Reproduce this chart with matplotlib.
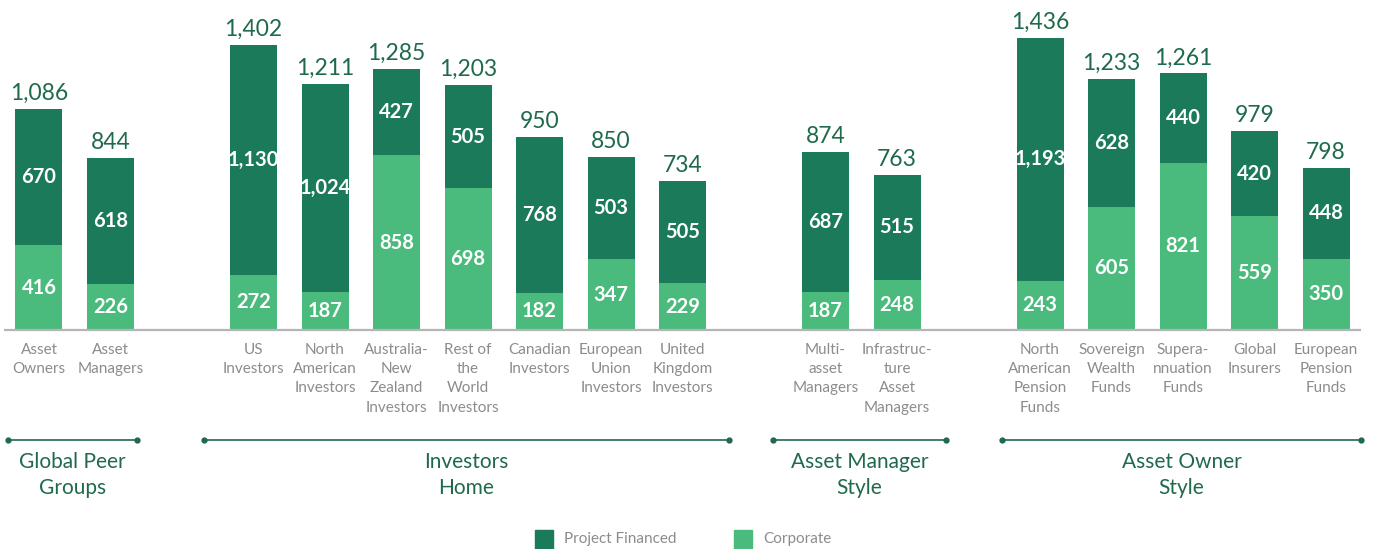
import matplotlib.pyplot as plt
from matplotlib.patches import Rectangle

# --- data ---
categories = [
    "Asset\nOwners", "Asset\nManagers",
    "US\nInvestors", "North\nAmerican\nInvestors", "Australia-\nNew\nZealand\nInvestors",
    "Rest of\nthe\nWorld\nInvestors", "Canadian\nInvestors", "European\nUnion\nInvestors",
    "United\nKingdom\nInvestors",
    "Multi-\nasset\nManagers", "Infrastruc-\nture\nAsset\nManagers",
    "North\nAmerican\nPension\nFunds", "Sovereign\nWealth\nFunds", "Supera-\nnnuation\nFunds",
    "Global\nInsurers", "European\nPension\nFunds",
]
corporate = [416, 226, 272, 187, 858, 698, 182, 347, 229, 187, 248, 243, 605, 821, 559, 350]
project_financed = [670, 618, 1130, 1024, 427, 505, 768, 503, 505, 687, 515, 1193, 628, 440, 420, 448]
totals = [1086, 844, 1402, 1211, 1285, 1203, 950, 850, 734, 874, 763, 1436, 1233, 1261, 979, 798]
group_names = ["Global Peer\nGroups", "Investors\nHome", "Asset Manager\nStyle", "Asset Owner\nStyle"]
group_sizes = [2, 7, 2, 5]
series_names = ["Project Financed", "Corporate"]

DARK = "#1a7a59"
LIGHT = "#4bbb7d"
TEXT_GREEN = "#1f6a4b"
GREY = "#8c8c8c"
FONT = "Lato"

# bar positions: one empty slot between groups
positions = []
start = 0
for n in group_sizes:
    positions.extend(range(start, start + n))
    start += n + 1

# pixel mapping: 71.5 px per slot, first bar centre at x=39 px; 0.2035 px per unit
px_slot = 71.5
px_unit = 0.2035
W, H = 1376, 549
base_px = 330  # baseline from top

fig = plt.figure(figsize=(W / 100, H / 100), dpi=100)
ax = fig.add_axes([0, 0, 1, 1])
ax.set_xlim(-39 / px_slot, (W - 39) / px_slot)
ax.set_ylim(-(H - base_px) / px_unit, base_px / px_unit)
ax.axis("off")

def py(pixels):
    """Convert a pixel offset below the baseline to data units."""
    return -pixels / px_unit

width = 47 / px_slot
ax.bar(positions, corporate, width, color=LIGHT, zorder=2)
ax.bar(positions, project_financed, width, bottom=corporate, color=DARK, zorder=2)

# baseline
ax.plot([-35 / px_slot, (1361 - 39) / px_slot], [0, 0], color="#b5b5b5", lw=1.6,
        zorder=3, solid_capstyle="butt")

for x, c, p, t, lab in zip(positions, corporate, project_financed, totals, categories):
    ax.text(x, c / 2, f"{c:,}", ha="center", va="center", color="white",
            fontsize=14.5, fontweight="bold", family=FONT, zorder=4)
    ax.text(x, c + p / 2, f"{p:,}", ha="center", va="center", color="white",
            fontsize=14.5, fontweight="bold", family=FONT, zorder=4)
    ax.text(x, t + 5 / px_unit, f"{t:,}", ha="center", va="bottom", color=TEXT_GREEN,
            fontsize=16.5, family=FONT)
    ax.text(x, py(13), lab, ha="center", va="top", color=GREY, fontsize=11,
            family=FONT, linespacing=1.47)

# group brackets
spans_px = [(8, 137), (204, 729), (773, 946), (1002, 1361)]
for (x0, x1), name in zip(spans_px, group_names):
    d0, d1 = (x0 - 39) / px_slot, (x1 - 39) / px_slot
    ax.plot([d0, d1], [py(110), py(110)], color=TEXT_GREEN, lw=1.2)
    ax.plot([d0, d1], [py(110), py(110)], "o", color=TEXT_GREEN, ms=3.5)
    ax.text((d0 + d1) / 2, py(122), name, ha="center", va="top", color=TEXT_GREEN,
            fontsize=15, family=FONT, linespacing=1.4)

# legend
for lx, name, col in [(535, series_names[0], DARK), (734, series_names[1], LIGHT)]:
    ax.add_patch(Rectangle(((lx - 39) / px_slot, py(219)), 18 / px_slot, 19 / px_unit,
                           color=col, clip_on=False))
    ax.text((lx + 29 - 39) / px_slot, py(209), name, ha="left", va="center",
            color=GREY, fontsize=11, family=FONT)

fig.savefig("out.png", dpi=100)
